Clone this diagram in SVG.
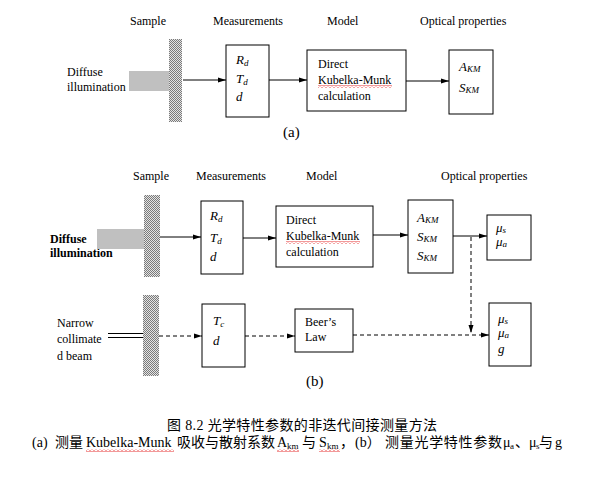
<svg xmlns="http://www.w3.org/2000/svg" width="612" height="490" viewBox="0 0 612 490">
<style>
.t{font-family:"Liberation Serif","Times New Roman",serif;font-size:12px;fill:#000}
.b{font-weight:bold}
.v{font-family:"Liberation Serif","Times New Roman",serif;font-style:italic;font-size:13px;fill:#000}
.sub{font-size:9px}
.box{fill:#fff;stroke:#000;stroke-width:1}
.ln{fill:none;stroke:#000;stroke-width:1}
.dash{stroke-dasharray:4 3}
.cap{font-family:"Liberation Serif","Noto Sans CJK SC",serif;font-size:14px;fill:#000}
.capsub{font-family:"Liberation Serif",serif;font-size:9px;fill:#000}
</style>
<defs>
<pattern id="hatch" width="2" height="2" patternUnits="userSpaceOnUse">
<rect width="2" height="2" fill="#e4e4e4"/>
<rect width="1" height="1" fill="#7a7a7a"/>
<rect x="1" y="1" width="1" height="1" fill="#7a7a7a"/>
</pattern>
<pattern id="wave" width="4" height="3" patternUnits="userSpaceOnUse">
<path d="M0,2.5 L2,0.5 L4,2.5" fill="none" stroke="#e00000" stroke-width="0.8"/>
</pattern>
<marker id="ah" markerWidth="8" markerHeight="6" refX="8" refY="3" orient="auto" markerUnits="userSpaceOnUse">
<path d="M0,0.5 L8,3 L0,5.5 z" fill="#000"/>
</marker>
</defs>
<rect width="612" height="490" fill="#fff"/>

<!-- (a) headers -->
<g id="headers-a">
<text class="t" x="130" y="25">Sample</text>
<text class="t" x="213" y="25">Measurements</text>
<text class="t" x="327" y="25">Model</text>
<text class="t" x="420" y="25">Optical properties</text>
</g>

<g id="source-a">
<text class="t" x="67" y="76">Diffuse</text>
<text class="t" x="67" y="91">illumination</text>
<rect x="129" y="71" width="40" height="20" fill="#c0c0c0"/>
</g>
<g id="sample-a"><rect x="169" y="39" width="13" height="83" fill="url(#hatch)"/></g>

<g id="meas-a">
<rect class="box" x="226" y="45" width="43" height="72"/>
<text class="v" x="236" y="64">R<tspan class="sub" dy="2">d</tspan></text>
<text class="v" x="236" y="83">T<tspan class="sub" dy="2">d</tspan></text>
<text class="v" x="236" y="101">d</text>
</g>
<g id="model-a">
<rect class="box" x="307" y="50" width="99" height="61"/>
<text class="t" x="318" y="68">Direct</text>
<text class="t" x="318" y="84">Kubelka-Munk</text>
<rect x="318" y="85" width="74" height="3" fill="url(#wave)"/>
<text class="t" x="318" y="100">calculation</text>
</g>
<g id="optical-a">
<rect class="box" x="449" y="50" width="44" height="64"/>
<text class="v" x="459" y="71">A<tspan class="sub" dy="1">KM</tspan></text>
<text class="v" x="459" y="92">S<tspan class="sub" dy="1">KM</tspan></text>
</g>
<text class="t" x="283" y="137" style="font-size:15px">(a)</text>

<!-- (b) headers -->
<g id="headers-b">
<text class="t" x="133" y="180">Sample</text>
<text class="t" x="196" y="180">Measurements</text>
<text class="t" x="306" y="180">Model</text>
<text class="t" x="441" y="180">Optical properties</text>
</g>

<g id="source-b1">
<text class="t b" x="50" y="243">Diffuse</text>
<text class="t b" x="50" y="257">illumination</text>
<rect x="97" y="229" width="47" height="20" fill="#c0c0c0"/>
</g>
<g id="sample-b1"><rect x="144" y="195" width="16" height="82" fill="url(#hatch)"/></g>

<g id="meas-b1">
<rect class="box" x="201" y="201" width="42" height="73"/>
<text class="v" x="210" y="220">R<tspan class="sub" dy="2">d</tspan></text>
<text class="v" x="210" y="242">T<tspan class="sub" dy="2">d</tspan></text>
<text class="v" x="210" y="261">d</text>
</g>
<g id="model-b">
<rect class="box" x="276" y="206" width="97" height="61"/>
<text class="t" x="286" y="224">Direct</text>
<text class="t" x="286" y="240">Kubelka-Munk</text>
<rect x="286" y="241" width="74" height="3" fill="url(#wave)"/>
<text class="t" x="286" y="256">calculation</text>
</g>
<g id="optical-b1">
<rect class="box" x="408" y="200" width="45" height="73"/>
<text class="v" x="417" y="222">A<tspan class="sub" dy="1">KM</tspan></text>
<text class="v" x="417" y="241">S<tspan class="sub" dy="1">KM</tspan></text>
<text class="v" x="417" y="260">S<tspan class="sub" dy="1">KM</tspan></text>
</g>
<g id="mu-b1">
<rect class="box" x="487" y="215" width="44" height="45"/>
<text class="v" x="496" y="232">μ<tspan class="sub" dy="1">s</tspan></text>
<text class="v" x="496" y="246">μ<tspan class="sub" dy="1">a</tspan></text>
</g>

<g id="source-b2">
<text class="t" x="57" y="327">Narrow</text>
<text class="t" x="57" y="343">collimate</text>
<text class="t" x="57" y="360">d beam</text>
<line class="ln" x1="108" y1="333.5" x2="143" y2="333.5"/>
<line class="ln" x1="108" y1="337.5" x2="143" y2="337.5"/>
</g>
<g id="sample-b2"><rect x="143" y="295" width="16" height="81" fill="url(#hatch)"/></g>

<g id="meas-b2">
<rect class="box" x="202" y="304" width="43" height="63"/>
<text class="v" x="213" y="325">T<tspan class="sub" dy="2">c</tspan></text>
<text class="v" x="213" y="345">d</text>
</g>
<g id="beer">
<rect class="box" x="295" y="309" width="58" height="43"/>
<text class="t" x="305" y="326">Beer’s</text>
<text class="t" x="305" y="341">Law</text>
</g>
<g id="mu-b2">
<rect class="box" x="489" y="303" width="42" height="63"/>
<text class="v" x="498" y="323">μ<tspan class="sub" dy="1">s</tspan></text>
<text class="v" x="498" y="337">μ<tspan class="sub" dy="1">a</tspan></text>
<text class="v" x="498" y="353">g</text>
</g>
<text class="t" x="306" y="386" style="font-size:15px">(b)</text>

<g id="connectors">
<line class="ln" x1="183" y1="80" x2="226" y2="80" marker-end="url(#ah)"/>
<line class="ln" x1="269" y1="80" x2="307" y2="80" marker-end="url(#ah)"/>
<line class="ln" x1="406" y1="81" x2="449" y2="81" marker-end="url(#ah)"/>
<line class="ln" x1="160" y1="237" x2="201" y2="237" marker-end="url(#ah)"/>
<line class="ln" x1="243" y1="238" x2="276" y2="238" marker-end="url(#ah)"/>
<line class="ln" x1="373" y1="235" x2="408" y2="235" marker-end="url(#ah)"/>
<line class="ln" x1="453" y1="236" x2="487" y2="236" marker-end="url(#ah)"/>
<line class="ln dash" x1="471" y1="237" x2="471" y2="333" marker-end="url(#ah)"/>
<line class="ln dash" x1="159" y1="336" x2="202" y2="336" marker-end="url(#ah)"/>
<line class="ln dash" x1="245" y1="336" x2="295" y2="336" marker-end="url(#ah)"/>
<line class="ln dash" x1="353" y1="335" x2="489" y2="335" marker-end="url(#ah)"/>
</g>

<g id="caption">
<text class="cap" x="167" y="430" textLength="270">图 8.2 光学特性参数的非迭代间接测量方法</text>
<text class="cap" x="32" y="447">(a)</text>
<text class="cap" x="55" y="447">测量</text>
<text class="cap" x="86" y="447">Kubelka-Munk</text>
<rect x="86" y="449" width="88" height="3" fill="url(#wave)"/>
<text class="cap" x="177" y="447">吸收与散射系数</text>
<text class="cap" x="277" y="447">A</text>
<text class="capsub" x="287" y="449">km</text>
<rect x="277" y="449" width="22" height="3" fill="url(#wave)"/>
<text class="cap" x="302" y="447">与</text>
<text class="cap" x="319" y="447">S</text>
<text class="capsub" x="327" y="449">km</text>
<rect x="319" y="449" width="21" height="3" fill="url(#wave)"/>
<text class="cap" x="340" y="447">，</text>
<text class="cap" x="355" y="447">(b）</text>
<text class="cap" x="385" y="447" textLength="117">测量光学特性参数</text>
<text class="cap" x="503" y="447">μ</text>
<text class="capsub" x="510" y="449">a</text>
<text class="cap" x="515" y="447">、</text>
<text class="cap" x="529" y="447">μ</text>
<text class="capsub" x="536" y="449">s</text>
<text class="cap" x="539" y="447">与</text>
<text class="cap" x="555" y="447">g</text>
</g>
</svg>
